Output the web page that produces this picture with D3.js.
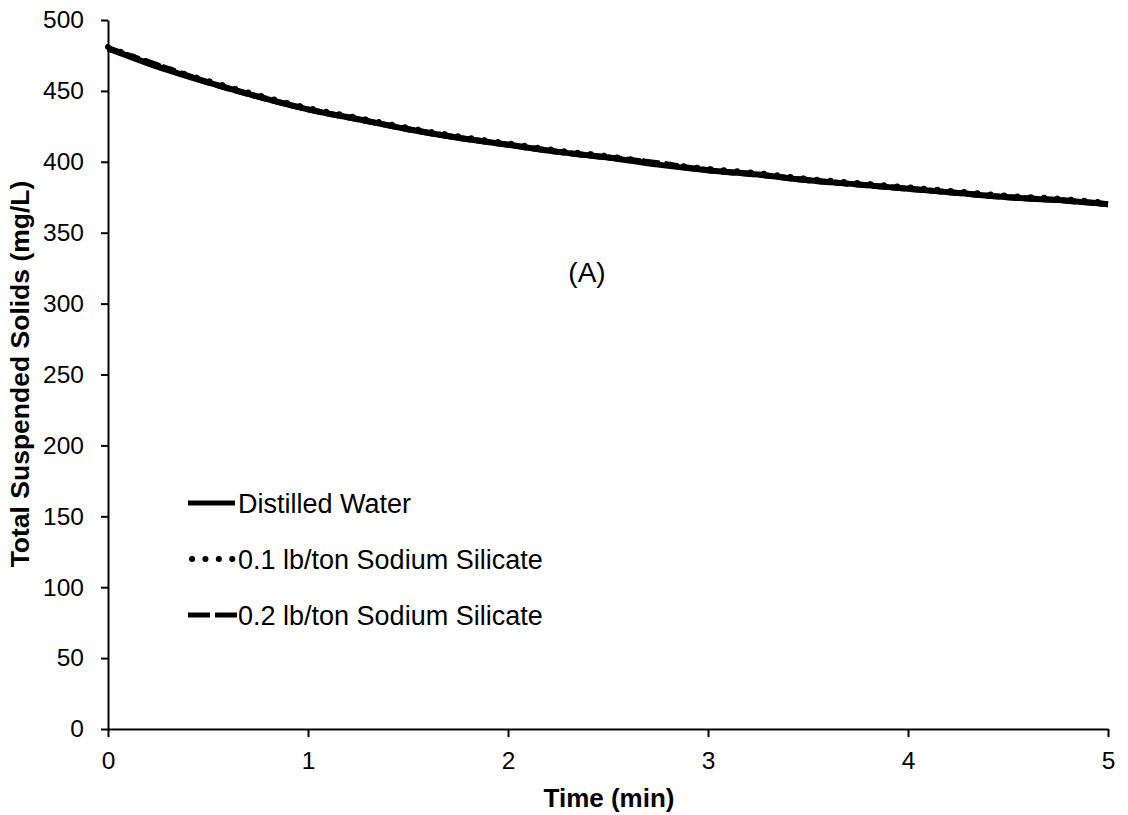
<!DOCTYPE html>
<html><head><meta charset="utf-8">
<script src="https://cdn.jsdelivr.net/npm/d3@7"></script>
<style>body{margin:0;background:#fff}svg text{font-family:"Liberation Sans",Arial,sans-serif;fill:#000}</style>
</head><body><svg id="c" width="1128" height="815"></svg>
<script>
const times = [0,0.25,0.5,0.75,1,1.25,1.5,1.75,2,2.25,2.5,2.75,3,3.25,3.5,3.75,4,4.25,4.5,4.75,5];
const distilledWater = [480,467,456,446,437,430,423,417,412,407,403,398,394,391,387,384,381,378,375,373,370];
const silicate01 = [481,468,457,447,438,431,424,418,413,408,404,399,395,392,388,385,382,379,376,374,371];
const silicate02 = [480,468,456,446,437,430,423,417,412,407,403,399,394,391,387,384,381,378,375,373,370];
const seriesNames = ["Distilled Water","0.1 lb/ton Sodium Silicate","0.2 lb/ton Sodium Silicate"];
const xTicks = [0,1,2,3,4,5];
const yTicks = [0,50,100,150,200,250,300,350,400,450,500];

const svg = d3.select("#c");
const x = d3.scaleLinear().domain([0,5]).range([108,1108]);
const y = d3.scaleLinear().domain([0,500]).range([729,20]);

// axes
const gx = svg.append("g").attr("transform","translate(0,729)")
  .call(d3.axisBottom(x).tickValues(xTicks).tickFormat(d3.format("d")).tickSizeInner(8).tickSizeOuter(0).tickPadding(15));
const gy = svg.append("g").attr("transform","translate(108,0)")
  .call(d3.axisLeft(y).tickValues(yTicks).tickFormat(d3.format("d")).tickSizeInner(7).tickSizeOuter(0).tickPadding(17));
[gx,gy].forEach(g=>{
  g.attr("font-size",null).attr("font-family",null);
  g.selectAll("path").attr("stroke","#000").attr("stroke-width",2);
  g.selectAll("line").attr("stroke","#000").attr("stroke-width",2);
  g.selectAll("text").style("font-size","24.5px").attr("fill","#000");
});

// titles
svg.append("text").attr("x",609).attr("y",807).attr("text-anchor","middle")
  .style("font-size","26px").style("font-weight","bold").text("Time (min)");
svg.append("text").attr("transform","translate(29,374) rotate(-90)").attr("text-anchor","middle")
  .style("font-size","26.5px").style("font-weight","bold").text("Total Suspended Solids (mg/L)");
svg.append("text").attr("x",587).attr("y",282).attr("text-anchor","middle")
  .style("font-size","28px").text("(A)");

const line = d3.line().x((d,i)=>x(times[i])).y(d=>y(d)).curve(d3.curveMonotoneX);
const styles = [
  {data:distilledWater, dash:null, width:6, cap:"butt"},
  {data:silicate02, dash:"14,5", width:6, cap:"butt"},
  {data:silicate01, dash:"0.1,13.3", width:6, cap:"round"}
];
styles.forEach(s=>{
  svg.append("path").attr("d",line(s.data)).attr("fill","none").attr("stroke","#000")
    .attr("stroke-width",s.width).attr("stroke-linecap",s.cap)
    .attr("stroke-dasharray",s.dash);
});

// legend
const legStyles = [
  {dash:null, cap:"butt", x1:188, x2:235, w:5},
  {dash:"0.1,13.3", cap:"round", x1:192, x2:233, w:6},
  {dash:"22,5", cap:"butt", x1:188, x2:237, w:5}
];
seriesNames.forEach((n,i)=>{
  const yy = 503 + i*56;
  const ls = legStyles[i];
  svg.append("line").attr("x1",ls.x1).attr("x2",ls.x2).attr("y1",yy).attr("y2",yy)
    .attr("stroke","#000").attr("stroke-width",ls.w).attr("stroke-linecap",ls.cap)
    .attr("stroke-dasharray",ls.dash);
  svg.append("text").attr("x",238).attr("y",yy+10).style("font-size","27px").text(n);
});
</script></body></html>
